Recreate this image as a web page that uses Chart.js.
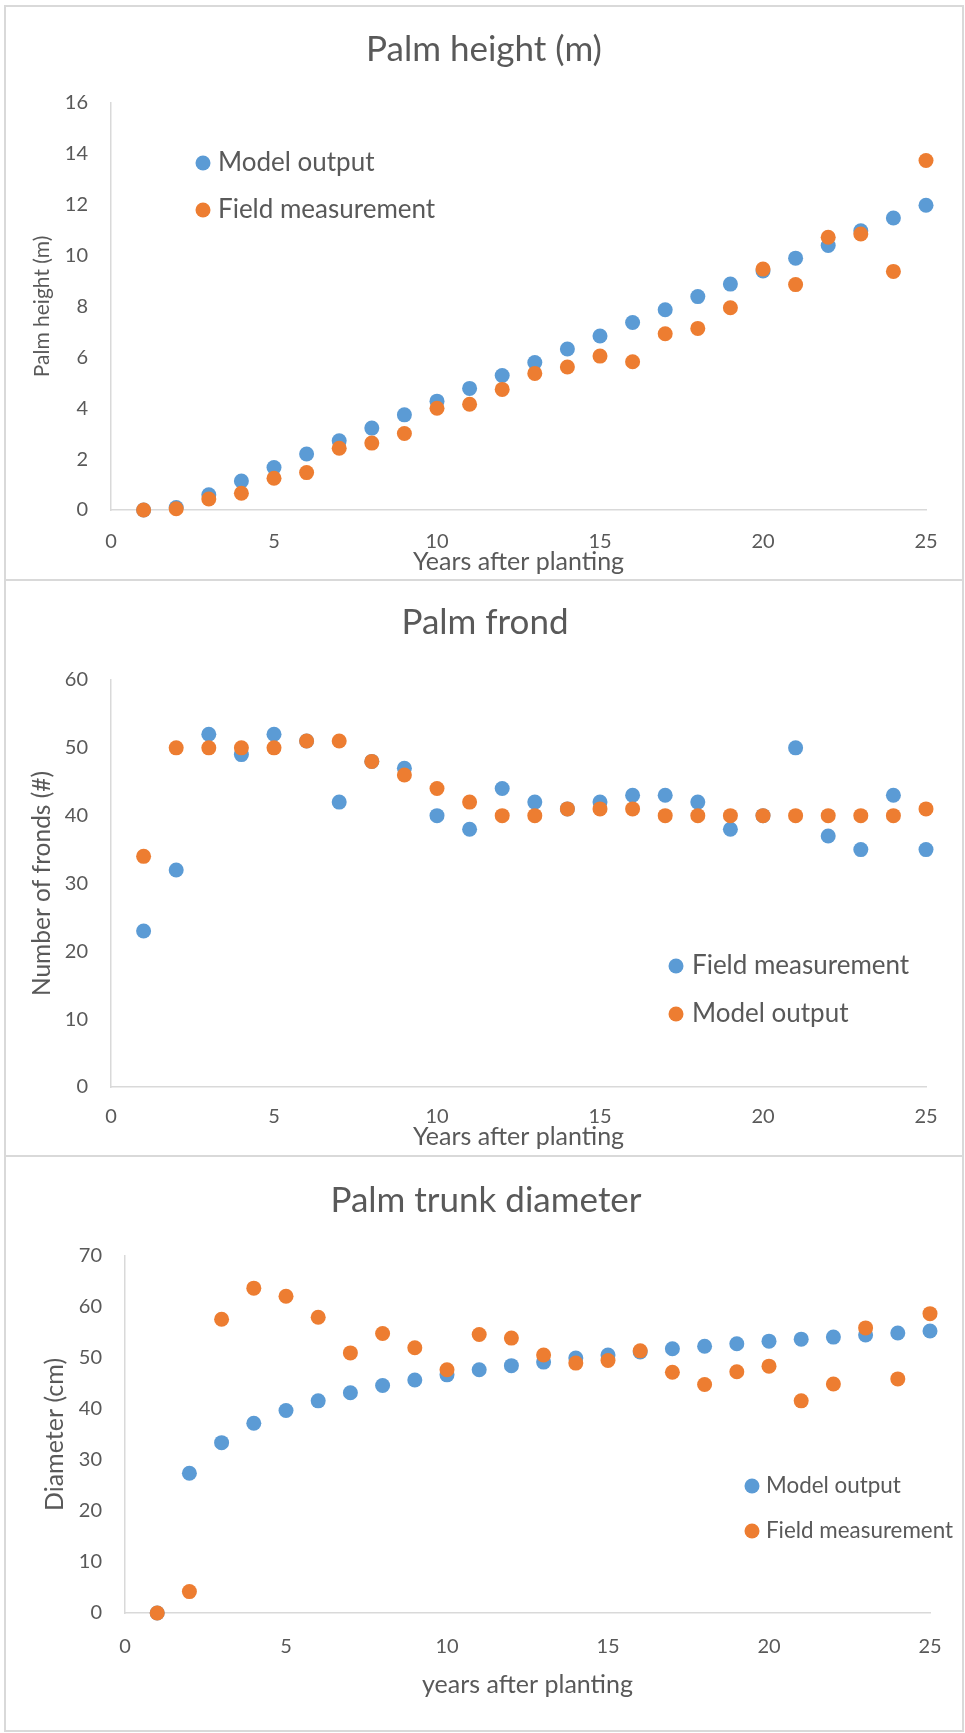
<!DOCTYPE html>
<html>
<head>
<meta charset="utf-8">
<script src="https://cdn.jsdelivr.net/npm/chart.js@4/dist/chart.umd.min.js"></script>
<style>
body{margin:0;background:#fff;width:965px;height:1733px;position:relative;overflow:hidden}
.panel{position:absolute;left:4px;width:960px;border:2px solid #d9d9d9;box-sizing:border-box}
canvas{position:absolute;left:0}
</style>
</head>
<body>
<div class="panel" style="top:5px;height:576px"></div>
<div class="panel" style="top:579px;height:578px"></div>
<div class="panel" style="top:1155px;height:577px"></div>
<canvas id="heightChart" width="965" height="580" style="top:0px"></canvas>
<canvas id="frondChart" width="965" height="576" style="top:580px"></canvas>
<canvas id="trunkChart" width="965" height="577" style="top:1156px"></canvas>
<script>

// years after planting
const years=[1,2,3,4,5,6,7,8,9,10,11,12,13,14,15,16,17,18,19,20,21,22,23,24,25]

// palm height (m)
const heightModel=[0,0.1,0.6,1.14,1.67,2.2,2.72,3.22,3.74,4.28,4.78,5.29,5.8,6.33,6.84,7.37,7.87,8.39,8.88,9.4,9.9,10.4,10.98,11.48,11.98]
const heightField=[0,0.05,0.43,0.66,1.25,1.47,2.43,2.63,3.01,4.0,4.16,4.74,5.37,5.62,6.05,5.83,6.93,7.14,7.95,9.47,8.86,10.72,10.85,9.38,13.74]

// number of fronds
const frondField=[23,32,52,49,52,51,42,48,47,40,38,44,42,41,42,43,43,42,38,40,50,37,35,43,35]
const frondModel=[34,50,50,50,50,51,51,48,46,44,42,40,40,41,41,41,40,40,40,40,40,40,40,40,41]

// trunk diameter (cm)
const diamModel=[0,27.4,33.4,37.2,39.7,41.6,43.2,44.6,45.7,46.7,47.7,48.5,49.2,50.0,50.6,51.2,51.8,52.3,52.8,53.3,53.7,54.1,54.5,54.9,55.3]
const diamField=[0,4.2,57.6,63.7,62.1,58.0,51.0,54.8,52.0,47.7,54.6,53.9,50.6,49.0,49.5,51.4,47.2,44.8,47.3,48.4,41.6,44.9,55.9,45.9,58.7]

const BLUE="#5b9bd5"
const ORANGE="#ed7d31"
const TEXT="#595959"
const LINE="#d9d9d9"

Chart.defaults.font.family="Lato"
Chart.defaults.color=TEXT

// chart title, centred where the original had it
const chartTitle={
id:"chartTitle",
afterDraw(chart,args,opts){
const ctx=chart.ctx
ctx.save()
ctx.font="35px Lato"
ctx.fillStyle=TEXT
ctx.textAlign="center"
ctx.textBaseline="middle"
ctx.fillText(opts.text,opts.x,opts.y)
ctx.restore()
}
}

// legend drawn inside the plot, one entry per row
const innerLegend={
id:"innerLegend",
afterDraw(chart,args,opts){
const ctx=chart.ctx
ctx.save()
ctx.font=opts.size+"px Lato"
ctx.textBaseline="middle"
chart.data.datasets.forEach((ds,i)=>{
const y=opts.y+i*opts.gap
ctx.fillStyle=ds.backgroundColor
ctx.beginPath()
ctx.arc(opts.x,y,7.5,0,Math.PI*2)
ctx.fill()
ctx.fillStyle=TEXT
ctx.fillText(ds.label,opts.x+opts.dx,y)
})
ctx.restore()
}
}

function pts(values){
return years.map((x,i)=>({x:x,y:values[i]}))
}

function makeChart(id,c){

new Chart(document.getElementById(id),{

type:"scatter",

data:{
datasets:[
{label:c.labels[0],data:pts(c.blue),backgroundColor:BLUE,borderWidth:0,pointRadius:7.5,pointHoverRadius:7.5,clip:false,order:1},
{label:c.labels[1],data:pts(c.orange),backgroundColor:ORANGE,borderWidth:0,pointRadius:7.5,pointHoverRadius:7.5,clip:false,order:0}
]
},

options:{
responsive:false,
animation:false,
devicePixelRatio:1,
layout:{padding:{left:0,right:c.padRight,top:c.padTop,bottom:0}},
plugins:{
legend:{display:false},
tooltip:{enabled:false},
title:{display:false},
chartTitle:c.title,
innerLegend:c.legend
},
scales:{
x:{
type:"linear",min:0,max:25,
afterFit:s=>{s.height=c.xHeight},
grid:{display:false,drawTicks:false},
border:{display:true,color:LINE,width:1.5},
ticks:{stepSize:5,padding:c.xTickPad,font:{size:20},color:TEXT},
title:{display:true,text:c.xTitle,color:TEXT,font:{size:25,lineHeight:1.2},padding:{top:0,bottom:c.xTitlePad}}
},
y:{
type:"linear",min:0,max:c.yMax,
afterFit:s=>{s.width=c.yWidth},
grid:{display:false,drawTicks:false},
border:{display:true,color:LINE,width:1.5},
ticks:{stepSize:c.yStep,padding:23,font:{size:20},color:TEXT},
title:{display:true,text:c.yTitle,color:TEXT,font:{size:c.yTitleSize,lineHeight:1.2},padding:{top:c.yTitlePad,bottom:0}}
}
}
},

plugins:[chartTitle,innerLegend]

})

}

makeChart("heightChart",{
title:{text:"Palm height (m)",x:484,y:50},
labels:["Model output","Field measurement"],
blue:heightModel,orange:heightField,
yMax:16,yStep:2,
xTitle:"Years after planting",yTitle:"Palm height (m)",
padRight:39,padTop:103,yWidth:111,xHeight:70,
xTickPad:20,xTitlePad:3,yTitleSize:21,yTitlePad:29.4,
legend:{x:203,y:163,gap:47,dx:15,size:26}
})

makeChart("frondChart",{
title:{text:"Palm frond",x:485,y:43},
labels:["Field measurement","Model output"],
blue:frondField,orange:frondModel,
yMax:60,yStep:10,
xTitle:"Years after planting",yTitle:"Number of fronds (#)",
padRight:39,padTop:100,yWidth:111,xHeight:69,
xTickPad:18,xTitlePad:4,yTitleSize:24.5,yTitlePad:27.3,
legend:{x:676,y:386,gap:48,dx:16,size:26}
})

makeChart("trunkChart",{
title:{text:"Palm trunk diameter",x:486,y:45},
labels:["Model output","Field measurement"],
blue:diamModel,orange:diamField,
yMax:70,yStep:10,
xTitle:"years after planting",yTitle:"Diameter (cm)",
padRight:35,padTop:100,yWidth:125,xHeight:120,
xTickPad:22,xTitlePad:33,yTitleSize:25,yTitlePad:40,
legend:{x:752,y:330,gap:45,dx:14,size:22.4}
})

</script>
</body>
</html>
